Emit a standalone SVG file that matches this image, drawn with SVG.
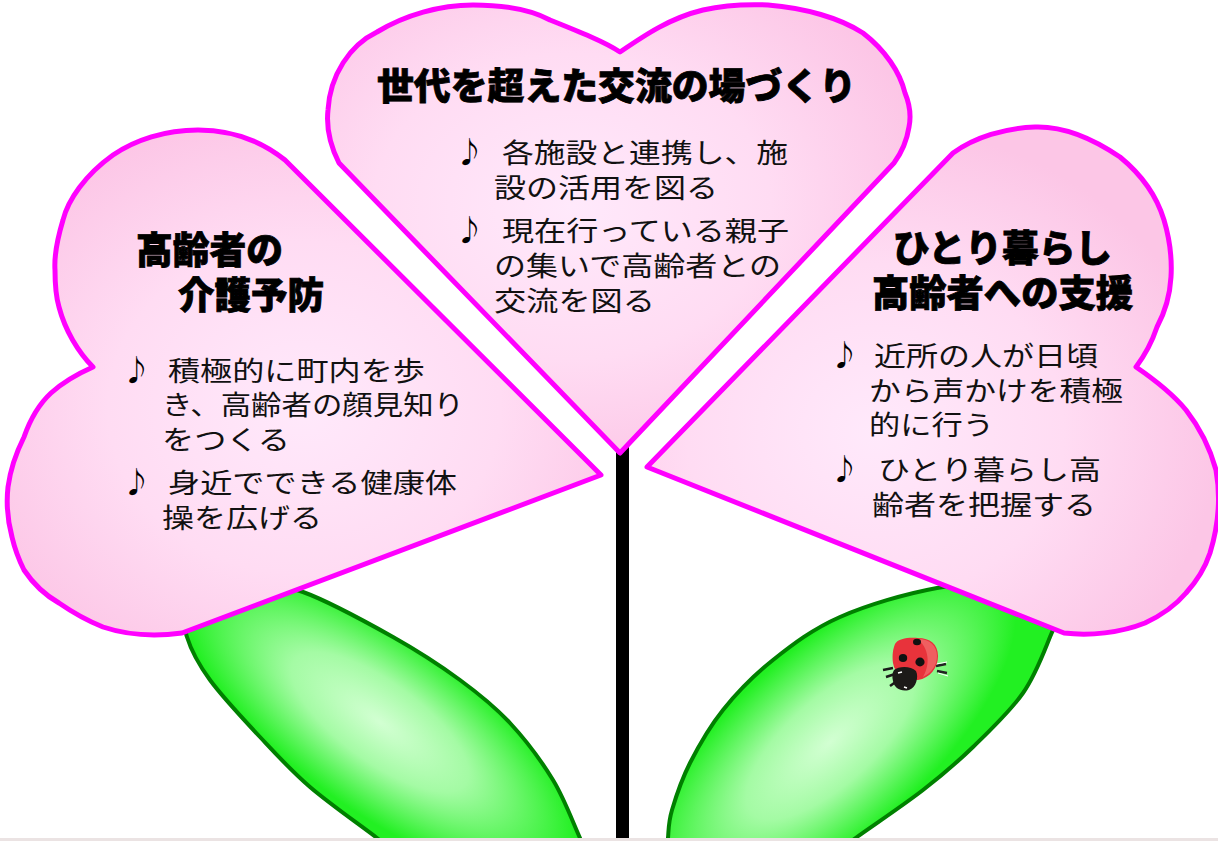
<svg xmlns="http://www.w3.org/2000/svg" width="1218" height="841" viewBox="0 0 1218 841">
  <style>
    .petal { stroke: #ff00ff; stroke-width: 5; stroke-linejoin: round; }
    .leaf { stroke: #008000; stroke-width: 4; stroke-linejoin: round; }
    .title { font-family: "Noto Sans CJK JP", "Noto Sans", sans-serif; font-weight: 900; font-size: 37px; fill: #000; stroke: #000; stroke-width: 0.8; }
    .body { font-family: "Noto Sans CJK JP", "Noto Sans", sans-serif; font-weight: 400; font-size: 27px; fill: #111; }
    .note { font-family: "Noto Sans CJK JP", "DejaVu Sans", sans-serif; font-size: 29px; fill: #000; }
  </style>
  <defs>
    <radialGradient id="pinkTop" cx="0.42" cy="0.45" r="0.62">
      <stop offset="0" stop-color="#ffe9fb"/>
      <stop offset="0.55" stop-color="#ffdcf3"/>
      <stop offset="1" stop-color="#fcc6e6"/>
    </radialGradient>
    <radialGradient id="pinkLeft" cx="0.5" cy="0.55" r="0.6">
      <stop offset="0" stop-color="#ffe9fb"/>
      <stop offset="0.55" stop-color="#ffdcf3"/>
      <stop offset="1" stop-color="#fcc6e6"/>
    </radialGradient>
    <radialGradient id="pinkRight" cx="0.4" cy="0.6" r="0.6">
      <stop offset="0" stop-color="#ffe9fb"/>
      <stop offset="0.55" stop-color="#ffdcf3"/>
      <stop offset="1" stop-color="#fcc6e6"/>
    </radialGradient>
    <radialGradient id="greenLeft" gradientUnits="userSpaceOnUse" cx="0" cy="0" r="1" gradientTransform="translate(380 722) rotate(36) scale(235 88)">
      <stop offset="0" stop-color="#d2ffd2"/>
      <stop offset="0.45" stop-color="#a4fba4"/>
      <stop offset="1" stop-color="#22f022"/>
    </radialGradient>
    <radialGradient id="greenRight" gradientUnits="userSpaceOnUse" cx="0" cy="0" r="1" gradientTransform="translate(830 742) rotate(-42) scale(235 95)">
      <stop offset="0" stop-color="#d2ffd2"/>
      <stop offset="0.45" stop-color="#a4fba4"/>
      <stop offset="1" stop-color="#22f022"/>
    </radialGradient>
  </defs>

  <rect width="1218" height="841" fill="#ffffff"/>

  <!-- stem -->
  <g id="connectors">
    <rect id="stem" x="616" y="440" width="13" height="401" fill="#000"/>
  </g>

  <!-- leaves -->
  <g id="leaf-left">
    <path class="leaf" fill="url(#greenLeft)" d="M 590,860 L 580,838 C 573.8,824.7 564.7,799.2 553,780 C 541.3,760.8 525.5,739.7 510,723 C 494.5,706.3 479.5,694.3 460,680 C 440.5,665.7 419.2,651.7 393,637 C 366.8,622.3 330.2,601.8 303,592 C 275.8,582.2 249.7,577 230,578 C 210.3,579 192.2,588.2 185,598 C 177.8,607.8 182.8,623.3 187,637 C 191.2,650.7 197.8,663.3 210,680 C 222.2,696.7 243.3,719.2 260,737 C 276.7,754.8 290.5,770.2 310,787 C 329.5,803.8 361.2,825.8 377,838 L 405,860 Z"/>
  </g>
  <g id="leaf-right">
    <path class="leaf" fill="url(#greenRight)" d="M 668,860 L 668,838 C 668.7,829.7 668.3,822.5 672,810 C 675.7,797.5 681.5,779.7 690,763 C 698.5,746.3 709.2,727.2 723,710 C 736.8,692.8 753.5,675.5 773,660 C 792.5,644.5 812.7,629 840,617 C 867.3,605 905.3,593.8 937,588 C 968.7,582.2 1010.2,578 1030,582 C 1049.8,586 1052.7,602.8 1056,612 C 1059.3,621.2 1055.5,623.5 1050,637 C 1044.5,650.5 1035.8,674.7 1023,693 C 1010.2,711.3 989.7,730.8 973,747 C 956.3,763.2 942.3,775 923,790 C 903.7,805 873.3,825.3 857,837 L 825,860 Z"/>
  </g>

  <!-- left petal -->
  <g id="petal-left">
    <path class="petal" fill="url(#pinkLeft)" d="M 601,475 L 285,160 C 260,140 230,130 198,130 C 165,130 135,140 113,155 C 85,175 68,200 63,220 C 57,240 54,255 55,270 C 55,285 56,297 59,307 C 65,330 78,352 93,367 C 75,375 62,383 51,393 C 38,405 30,420 24,437 C 15,455 10,472 8,487 C 6,505 8,522 12,537 C 15,550 19,560 24,570 C 34,585 45,595 59,603 C 72,612 88,621 103,627 C 130,636 160,636 182,633 Z"/>
    <text class="title" x="136" y="264" textLength="147" lengthAdjust="spacingAndGlyphs">高齢者の</text>
    <text class="title" x="178" y="309" textLength="146" lengthAdjust="spacingAndGlyphs">介護予防</text>
    <text class="note" x="122" y="381">♪</text>
    <text class="body" x="168" y="381" textLength="257" lengthAdjust="spacingAndGlyphs">積極的に町内を歩</text>
    <text class="body" x="162" y="415" textLength="302" lengthAdjust="spacingAndGlyphs">き、高齢者の顔見知り</text>
    <text class="body" x="162" y="450" textLength="128" lengthAdjust="spacingAndGlyphs">をつくる</text>
    <text class="note" x="122" y="493">♪</text>
    <text class="body" x="168" y="493" textLength="289" lengthAdjust="spacingAndGlyphs">身近でできる健康体</text>
    <text class="body" x="162" y="528" textLength="160" lengthAdjust="spacingAndGlyphs">操を広げる</text>
  </g>

  <!-- right petal -->
  <g id="petal-right">
    <path class="petal" fill="url(#pinkRight)" d="M 647,467 L 953,153 C 975,137 1005,128 1035,127 C 1065,126 1095,140 1120,157 C 1142,175 1157,197 1164,220 C 1170,240 1172,260 1171,277 C 1170,295 1165,312 1157,327 C 1152,342 1145,355 1136,367 C 1155,380 1172,393 1186,410 C 1200,428 1210,448 1216,470 C 1221,498 1218,527 1210,553 C 1205,568 1196,582 1186,593 C 1175,606 1160,616 1145,623 C 1120,633 1090,636 1064,633 Z"/>
    <text class="title" x="893" y="262" textLength="219" lengthAdjust="spacingAndGlyphs">ひとり暮らし</text>
    <text class="title" x="872" y="307" textLength="261" lengthAdjust="spacingAndGlyphs">高齢者への支援</text>
    <text class="note" x="830" y="366">♪</text>
    <text class="body" x="874" y="366" textLength="224" lengthAdjust="spacingAndGlyphs">近所の人が日頃</text>
    <text class="body" x="869" y="401" textLength="254" lengthAdjust="spacingAndGlyphs">から声かけを積極</text>
    <text class="body" x="869" y="435" textLength="125" lengthAdjust="spacingAndGlyphs">的に行う</text>
    <text class="note" x="830" y="480">♪</text>
    <text class="body" x="878" y="480" textLength="223" lengthAdjust="spacingAndGlyphs">ひとり暮らし高</text>
    <text class="body" x="872" y="515" textLength="224" lengthAdjust="spacingAndGlyphs">齢者を把握する</text>
  </g>

  <!-- top petal -->
  <g id="petal-top">
    <path class="petal" fill="url(#pinkTop)" d="M 620,453 L 339,163 C 330,145 326,128 328,110 C 330,75 350,45 377,32 C 405,15 440,5 473,5 C 510,5 535,12 550,20 C 580,32 605,42 620,52 C 645,35 670,18 703,10 C 725,5 745,4 768,5 C 805,8 840,18 863,33 C 885,50 900,72 905,93 C 910,105 911,117 909,127 C 907,140 902,152 894,163 Z"/>
    <text class="title" x="377" y="100" textLength="479" lengthAdjust="spacingAndGlyphs">世代を超えた交流の場づくり</text>
    <text class="note" x="455" y="163">♪</text>
    <text class="body" x="502" y="163" textLength="286" lengthAdjust="spacingAndGlyphs">各施設と連携し、施</text>
    <text class="body" x="494" y="198" textLength="224" lengthAdjust="spacingAndGlyphs">設の活用を図る</text>
    <text class="note" x="455" y="241">♪</text>
    <text class="body" x="502" y="241" textLength="287" lengthAdjust="spacingAndGlyphs">現在行っている親子</text>
    <text class="body" x="494" y="276" textLength="287" lengthAdjust="spacingAndGlyphs">の集いで高齢者との</text>
    <text class="body" x="494" y="311" textLength="161" lengthAdjust="spacingAndGlyphs">交流を図る</text>
  </g>

  <!-- ladybug resting on the right leaf -->
  <g id="ladybug">
    <path d="M 883,670 L 893,668 M 886,677 L 895,674 M 890,686 L 897,681" stroke="#1a1a1a" stroke-width="2.5" fill="none"/>
    <path d="M 936,666 L 946,664 M 937,671 L 947,673" stroke="#222" stroke-width="2.5" fill="none"/>
    <path d="M 936,664 L 947,662 M 938,673 L 948,676" stroke="#ffffff" stroke-width="1" fill="none"/>
    <path d="M 895,644 C 898,638 910,637 918,638 C 930,638 938,644 938,656 C 938,668 930,678 918,680 C 906,681 895,675 893,663 C 892,655 893,649 895,644 Z" fill="#e8333b"/>
    <path d="M 918,639 C 930,639 937,646 937,656 C 937,666 931,673 923,677 C 929,667 931,651 918,639 Z" fill="#f06a6a" opacity="0.8"/>
    <ellipse cx="917" cy="642" rx="4" ry="3.2" fill="#111"/>
    <ellipse cx="903" cy="658" rx="4.2" ry="4" fill="#111"/>
    <ellipse cx="920" cy="662" rx="4.6" ry="4.4" fill="#111"/>
    <path d="M 894,670 C 899,666 911,666 916,671 C 919,677 916,688 909,690 C 901,692 894,688 893,681 C 892,677 892,673 894,670 Z" fill="#1c1a18"/>
    <path d="M 898,673 L 902,672 M 904,687 L 907,688" stroke="#ffffff" stroke-width="1.5"/>
  </g>

  <!-- bottom border -->
  <rect x="0" y="838" width="1218" height="3" fill="#ebe3e3"/>
</svg>
